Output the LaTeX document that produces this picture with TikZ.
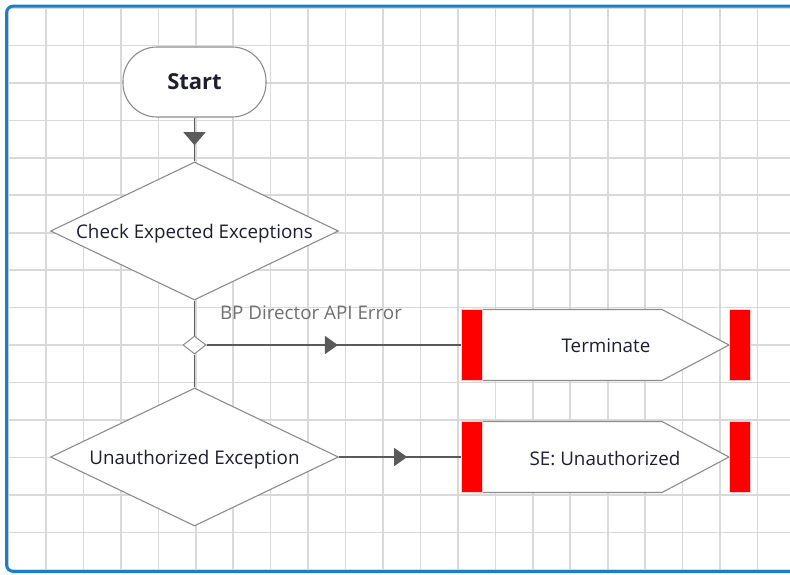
\documentclass[tikz,border=0pt]{standalone}
\usepackage{fontspec}
\setmainfont{Open Sans}
\usetikzlibrary{shapes.geometric,arrows.meta,decorations.markings}

\definecolor{framec}{HTML}{1B7EC6}
\definecolor{gridc}{HTML}{D9D9D9}
\definecolor{shapeline}{HTML}{8C8C8C}
\definecolor{linkc}{HTML}{5A5A5A}
\definecolor{textc}{HTML}{1E1E32}
\definecolor{labelc}{HTML}{707070}
\definecolor{stopred}{HTML}{FF0000}

\tikzset{
  startbox/.style={draw=shapeline, line width=1.1pt, fill=white, rounded corners=34pt,
    minimum width=143pt, minimum height=70pt, inner sep=0pt,
    font=\fontsize{22}{26}\selectfont\bfseries, text=textc},
  decision/.style={diamond, draw=shapeline, line width=1.1pt, fill=white, inner sep=0pt,
    minimum width=288pt, minimum height=138pt, aspect=2.09,
    text height=15.4pt, text depth=0pt,
    font=\fontsize{18.8}{22}\selectfont, text=textc},
  splitpt/.style={diamond, draw=shapeline, line width=1pt, fill=white, inner sep=0pt,
    minimum width=23pt, minimum height=18pt},
  endlabel/.style={font=\fontsize{18.8}{22}\selectfont, text=textc, inner sep=0pt, yshift=-1pt},
  redbar/.style={fill=stopred, draw=white!80!red, line width=0.6pt, inner sep=0pt,
    minimum width=21pt, minimum height=71pt},
  endbody/.style={draw=shapeline, line width=1.1pt, fill=white},
  link/.style={draw=linkc, line width=1.3pt},
  midarrow/.style={postaction={decorate}, decoration={markings,
    mark=at position #1 with {\arrow{Triangle[width=18pt,length=13pt]}}}},
  downarrow/.style={postaction={decorate}, decoration={markings,
    mark=at position #1 with {\arrow{Triangle[width=22pt,length=13pt]}}}},
}

\begin{document}
\begin{tikzpicture}[x=1pt,y=-1pt]
  \useasboundingbox (0,0) rectangle (790,574);

  % canvas with grid
  \fill[white] (0,0) rectangle (790,574);
  \begin{scope}
    \clip[rounded corners=7pt] (6.5,6) rectangle (810,571.5);
    \fill[white] (6.5,6) rectangle (810,571.5);
    \foreach \i in {0,...,21} {
      \draw[gridc, line width=1.6pt] ({8.5+37.45*\i},0) -- ({8.5+37.45*\i},574);
    }
    \foreach \j in {0,...,15} {
      \draw[gridc, line width=1.6pt] (0,{8+37.45*\j}) -- (790,{8+37.45*\j});
    }
  \end{scope}
  \draw[framec, line width=3pt, rounded corners=7pt] (6.5,6) rectangle (810,571.5);

  % flow shapes
  \node[startbox] (start) at (194.5,82) {Start};
  \node[decision] (check) at (194.5,231) {Check Expected Exceptions};
  \node[splitpt] (split) at (194.5,345) {};
  \node[decision] (unauth) at (194.5,457) {Unauthorized Exception};

  % end stage: Terminate
  \draw[endbody] (472,309.5) -- (662,309.5) -- (729,345) -- (662,380.5) -- (472,380.5) -- cycle;
  \node[redbar] (termL) at (471.5,345) {};
  \node[redbar] (termR) at (740,345) {};
  \node[endlabel] (term) at (606,345) {Terminate};

  % end stage: SE: Unauthorized
  \draw[endbody] (472,421.5) -- (662,421.5) -- (729,457) -- (662,492.5) -- (472,492.5) -- cycle;
  \node[redbar] (seL) at (471.5,457) {};
  \node[redbar] (seR) at (740,457) {};
  \node[endlabel] (se) at (605,457) {SE: Unauthorized};

  % connectors
  \draw[link, downarrow=0.63, linkc] (start.south) -- (check.north);
  \draw[link] (check.south) -- (split.north);
  \draw[link] (split.south) -- (unauth.north);
  \draw[link, midarrow=0.517] (split.east) -- (termL.west);
  \node[font=\fontsize{18.8}{22}\selectfont, text=labelc, inner sep=0pt]
    (errlbl) at (311,312.5) {BP Director API Error};
  \draw[link, midarrow=0.56] (unauth.east) -- (seL.west);
\end{tikzpicture}
\end{document}
